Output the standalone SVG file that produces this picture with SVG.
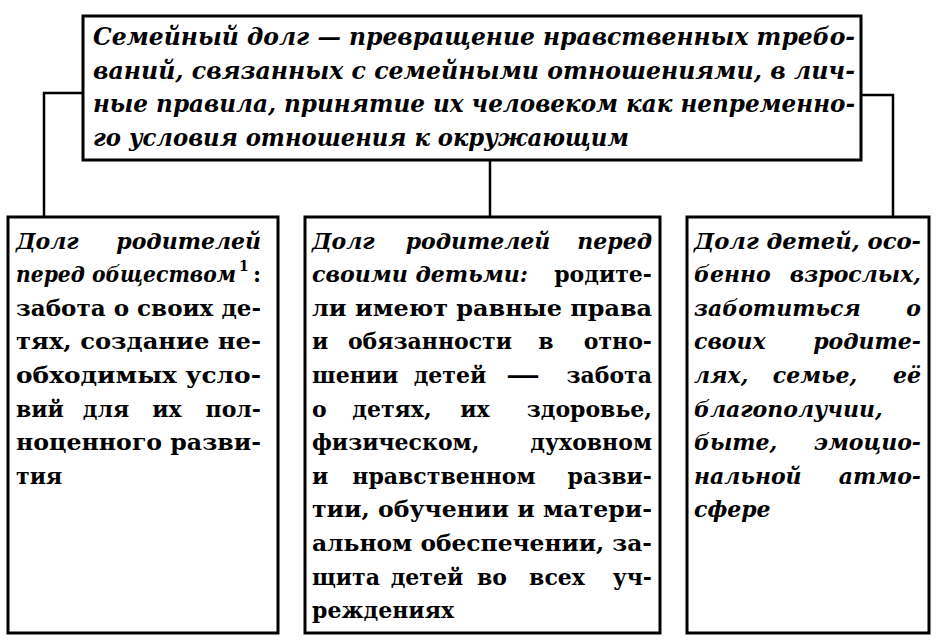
<svg xmlns="http://www.w3.org/2000/svg" width="942" height="640" viewBox="0 0 942 640">
<style>
.box{fill:#fff;stroke:#000;stroke-width:3}
.conn{fill:none;stroke:#000;stroke-width:2.5}
text{fill:#000;font-family:"DejaVu Serif","Liberation Serif",serif;font-weight:bold;font-size:22px}
.t{font-size:24px}
.i{font-style:italic}
.r{font-style:normal}
.e{text-anchor:end}
.m{text-anchor:middle}
.sup{font-size:14px;font-style:normal}
</style>
<rect width="942" height="640" fill="#fff"/>
<g id="connectors">
<polyline class="conn" points="83,93 44,93 44,217"/>
<polyline class="conn" points="490,160 490,217"/>
<polyline class="conn" points="861,95 893,95 893,217"/>
</g>
<g id="top">
<rect class="box" x="83" y="16" width="778" height="144"/>
<text class="i t" x="93" y="45" textLength="762" lengthAdjust="spacingAndGlyphs">Семейный долг — превращение нравственных требо-</text>
<text class="i t" x="93" y="79" textLength="762" lengthAdjust="spacingAndGlyphs">ваний, связанных с семейными отношениями, в лич-</text>
<text class="i t" x="93" y="112" textLength="762" lengthAdjust="spacingAndGlyphs">ные правила, принятие их человеком как непременно-</text>
<text class="i t" x="93" y="146" textLength="536" lengthAdjust="spacingAndGlyphs">го условия отношения к окружающим</text>
</g>
<g id="left">
<rect class="box" x="8" y="217" width="270" height="416"/>
<text class="i" x="16" y="248.5">Долг</text>
<text class="i e" x="261" y="248.5">родителей</text>
<text class="i" x="16" y="282" textLength="220" lengthAdjust="spacingAndGlyphs">перед обществом</text>
<text class="sup" x="239" y="271">1</text>
<text class="r e" x="261" y="282">:</text>
<text class="r" x="16" y="315.7" textLength="245" lengthAdjust="spacingAndGlyphs">забота о своих де-</text>
<text class="r" x="16" y="349.3" textLength="245" lengthAdjust="spacingAndGlyphs">тях, создание не-</text>
<text class="r" x="16" y="383" textLength="245" lengthAdjust="spacingAndGlyphs">обходимых усло-</text>
<text class="r" x="16" y="416.5">вий</text>
<text class="r m" x="106" y="416.5">для</text>
<text class="r m" x="167" y="416.5">их</text>
<text class="r e" x="261" y="416.5">пол-</text>
<text class="r" x="16" y="450" textLength="245" lengthAdjust="spacingAndGlyphs">ноценного разви-</text>
<text class="r" x="16" y="483.7">тия</text>
</g>
<g id="middle">
<rect class="box" x="305" y="217" width="355" height="416"/>
<text class="i" x="312" y="248.5">Долг</text>
<text class="i m" x="478" y="248.5">родителей</text>
<text class="i e" x="652" y="248.5">перед</text>
<text class="i" x="312" y="282" textLength="216" lengthAdjust="spacingAndGlyphs">своими детьми:</text>
<text class="r e" x="652" y="282">родите-</text>
<text class="r" x="312" y="315.7" textLength="340" lengthAdjust="spacingAndGlyphs">ли имеют равные права</text>
<text class="r" x="312" y="349.3">и</text>
<text class="r m" x="430" y="349.3">обязанности</text>
<text class="r m" x="546" y="349.3">в</text>
<text class="r e" x="652" y="349.3">отно-</text>
<text class="r" x="312" y="383">шении</text>
<text class="r m" x="450" y="383">детей</text>
<text class="r m" x="523" y="383" textLength="34" lengthAdjust="spacingAndGlyphs">—</text>
<text class="r e" x="652" y="383">забота</text>
<text class="r" x="312" y="416.5">о</text>
<text class="r m" x="392" y="416.5">детях,</text>
<text class="r m" x="475" y="416.5">их</text>
<text class="r e" x="652" y="416.5">здоровье,</text>
<text class="r" x="312" y="450">физическом,</text>
<text class="r e" x="652" y="450">духовном</text>
<text class="r" x="312" y="483.7">и</text>
<text class="r m" x="444" y="483.7">нравственном</text>
<text class="r e" x="652" y="483.7">разви-</text>
<text class="r" x="312" y="517.3" textLength="340" lengthAdjust="spacingAndGlyphs">тии, обучении и матери-</text>
<text class="r" x="312" y="551" textLength="340" lengthAdjust="spacingAndGlyphs">альном обеспечении, за-</text>
<text class="r" x="312" y="584.5">щита</text>
<text class="r m" x="427" y="584.5">детей</text>
<text class="r m" x="492" y="584.5">во</text>
<text class="r m" x="557" y="584.5">всех</text>
<text class="r e" x="652" y="584.5">уч-</text>
<text class="r" x="312" y="618">реждениях</text>
</g>
<g id="right">
<rect class="box" x="687" y="217" width="242" height="416"/>
<text class="i" x="694" y="248.5" textLength="227" lengthAdjust="spacingAndGlyphs">Долг детей, осо-</text>
<text class="i" x="694" y="282">бенно</text>
<text class="i e" x="921" y="282">взрослых,</text>
<text class="i" x="694" y="315.7">заботиться</text>
<text class="i e" x="921" y="315.7">о</text>
<text class="i" x="694" y="349.3">своих</text>
<text class="i e" x="921" y="349.3">родите-</text>
<text class="i" x="694" y="383">лях,</text>
<text class="i m" x="815" y="383">семье,</text>
<text class="i e" x="921" y="383">её</text>
<text class="i" x="694" y="416.5">благополучии,</text>
<text class="i" x="694" y="450">быте,</text>
<text class="i e" x="921" y="450">эмоцио-</text>
<text class="i" x="694" y="483.7">нальной</text>
<text class="i e" x="921" y="483.7">атмо-</text>
<text class="i" x="694" y="517.3">сфере</text>
</g>
</svg>
